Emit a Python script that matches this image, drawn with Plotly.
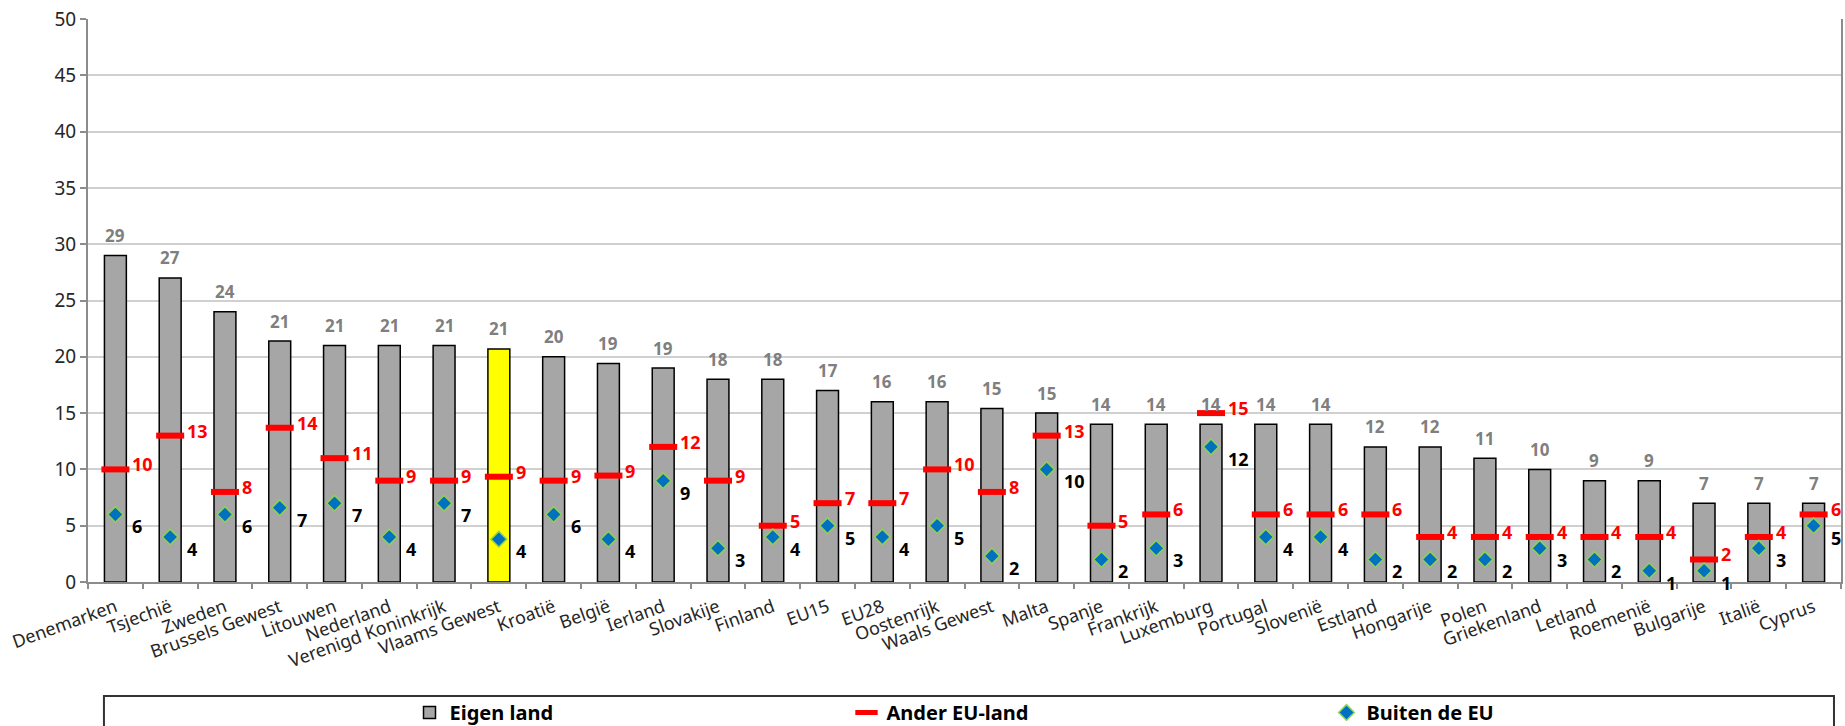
import plotly.graph_objects as go

# Share (%) of persons per country of birth group
landen = [
    "Denemarken", "Tsjechië", "Zweden", "Brussels Gewest", "Litouwen", "Nederland",
    "Verenigd Koninkrijk", "Vlaams Gewest", "Kroatië", "België", "Ierland", "Slovakije",
    "Finland", "EU15", "EU28", "Oostenrijk", "Waals Gewest", "Malta", "Spanje",
    "Frankrijk", "Luxemburg", "Portugal", "Slovenië", "Estland", "Hongarije", "Polen",
    "Griekenland", "Letland", "Roemenië", "Bulgarije", "Italië", "Cyprus",
]
eigen_land = [29, 27, 24, 21.4, 21, 21, 21, 20.7, 20, 19.4, 19, 18, 18, 17, 16, 16,
              15.4, 15, 14, 14, 14, 14, 14, 12, 12, 11, 10, 9, 9, 7, 7, 7]
ander_eu = [10, 13, 8, 13.7, 11, 9, 9, 9.35, 9, 9.45, 12, 9, 5, 7, 7, 10,
            8, 13, 5, 6, 15, 6, 6, 6, 4, 4, 4, 4, 4, 2, 4, 6]
buiten_eu = [6, 4, 6, 6.6, 7, 4, 7, 3.8, 6, 3.8, 9, 3, 4, 5, 4, 5,
             2.3, 10, 2, 3, 12, 4, 4, 2, 2, 2, 3, 2, 1, 1, 3, 5]
y_ticks = [0, 5, 10, 15, 20, 25, 30, 35, 40, 45, 50]
highlight = "Vlaams Gewest"

FONT = "Noto Sans"
bar_colors = ["#ffff00" if c == highlight else "#a6a6a6" for c in landen]

fig = go.Figure()
fig.add_trace(go.Bar(
    x=landen, y=eigen_land, name="Eigen land", width=0.4,
    marker=dict(color=bar_colors, line=dict(color="#000000", width=1.5)),
    legendwidth=392,
))
fig.add_trace(go.Scatter(
    x=landen, y=ander_eu, name="Ander EU-land", mode="markers",
    marker=dict(symbol="line-ew", size=20, line=dict(color="#ff0000", width=6)),
    legendwidth=435,
))
fig.add_trace(go.Scatter(
    x=landen, y=buiten_eu, name="Buiten de EU", mode="markers",
    marker=dict(symbol="diamond", size=12, color="#0070c0",
                line=dict(color="#92d050", width=1.5)),
    legendwidth=200,
))

annotations = []
for c, v in zip(landen, eigen_land):
    annotations.append(dict(x=c, y=v, text=f"{v:.0f}", showarrow=False, yshift=20,
                            font=dict(family=FONT, size=17, color="#7f7f7f", weight="bold")))
for c, v in zip(landen, ander_eu):
    annotations.append(dict(x=c, y=v, text=f"{v:.0f}", showarrow=False, xanchor="left",
                            xshift=15, yshift=5,
                            font=dict(family=FONT, size=18, color="#ff0000", weight="bold")))
for c, v in zip(landen, buiten_eu):
    annotations.append(dict(x=c, y=v, text=f"{v:.0f}", showarrow=False, xanchor="left",
                            xshift=15, yshift=-12,
                            font=dict(family=FONT, size=18, color="#000000", weight="bold")))

fig.update_layout(
    width=1845, height=726,
    margin=dict(l=88, r=4, t=19, b=144, pad=0, autoexpand=False),
    paper_bgcolor="white", plot_bgcolor="white",
    font=dict(family=FONT, color="#262626"),
    showlegend=True,
    legend=dict(
        orientation="h", x=0.1834, xanchor="left", y=-0.197, yanchor="top",
        font=dict(family=FONT, size=20, color="#000000", weight="bold"),
        bgcolor="rgba(0,0,0,0)", borderwidth=0, traceorder="normal",
    ),
    annotations=annotations,
    shapes=[dict(type="rect", xref="paper", yref="paper",
                 x0=0.0091, x1=0.996, y0=-0.40, y1=-0.2025,
                 line=dict(color="#333333", width=2), fillcolor="rgba(0,0,0,0)")],
    xaxis=dict(
        type="category", range=[-0.5, len(landen) - 0.5], tickangle=-20,
        tickson="boundaries", ticks="outside", ticklabelstandoff=6,
        ticklen=5, tickcolor="#8c8c8c", tickwidth=1.5,
        showline=True, linecolor="#8c8c8c", linewidth=2, showgrid=False,
        tickfont=dict(family=FONT, size=18, color="#262626"),
    ),
    yaxis=dict(
        range=[0, 50], tickvals=y_ticks, ticks="outside", ticklen=6,
        tickcolor="#8c8c8c", tickwidth=1.5,
        showline=True, linecolor="#8c8c8c", linewidth=2, mirror=True,
        showgrid=True, gridcolor="#d0d0d0", gridwidth=1.5, zeroline=False,
        tickfont=dict(family=FONT, size=19, color="#262626"),
    ),
)

fig.write_html("out.html")
